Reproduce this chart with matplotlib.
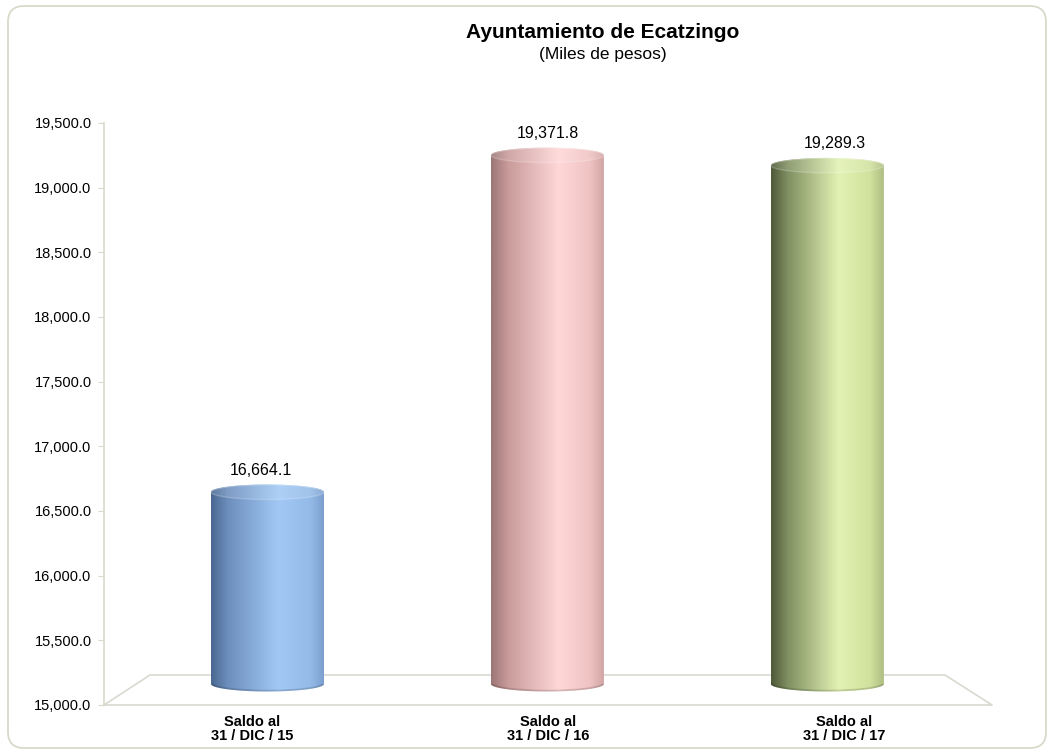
import numpy as np
import matplotlib.pyplot as plt
from matplotlib.colors import LinearSegmentedColormap, to_rgb
from matplotlib.patches import Ellipse, Polygon, FancyBboxPatch, Arc
from matplotlib.transforms import blended_transform_factory

plt.rcParams['font.family'] = ['Liberation Sans', 'DejaVu Sans']

# ===== DATA =====
categories = ['Saldo al\n31 / DIC / 15', 'Saldo al\n31 / DIC / 16', 'Saldo al\n31 / DIC / 17']
values = [16664.1, 19371.8, 19289.3]
yticks = [15000, 15500, 16000, 16500, 17000, 17500, 18000, 18500, 19000, 19500]

# gradient stops (left -> right) for each cylinder
bar_colors = [
    ['#4a6890', '#6d8fbd', '#a2c9f6', '#94bbe8', '#7c9fce'],
    ['#9c7676', '#c99b9b', '#ffd7d7', '#efc2c2', '#d2a5a5'],
    ['#4e5938', '#809162', '#e2f2b3', '#d0e19d', '#aebe82'],
]
stops = [0.0, 0.15, 0.6, 0.88, 1.0]

W, H = 1053, 755
fig = plt.figure(figsize=(W / 100, H / 100), dpi=100)
fig.patch.set_facecolor('white')

# outer rounded frame (pixel coords)
frame = FancyBboxPatch((8, 7), 1038, 742, boxstyle='round,pad=0,rounding_size=16',
                       transform=None, fc='none', ec='#d9d9c9', lw=1.3, zorder=-1)
fig.patches.append(frame)

# axes geometry in pixels
left, right, top, bottom = 104, 992, 123, 705
pos = [left / W, 1 - bottom / H, (right - left) / W, (bottom - top) / H]
xlim = (-0.584, 2.588)

ax = fig.add_axes(pos)
ax.set_xlim(*xlim)
ax.set_ylim(15000, 19500)
ax.patch.set_alpha(0)
for s in ['top', 'right', 'bottom']:
    ax.spines[s].set_visible(False)
ax.spines['left'].set_color('#d9d9cc')
ax.spines['left'].set_linewidth(1.2)
ax.set_yticks(yticks)
ax.set_yticklabels([f'{v:,.1f}' for v in yticks], fontsize=10.5)
ax.tick_params(axis='y', length=4, color='#d9d9cc', pad=5)
ax.set_xticks([])

# category labels along the front edge of the floor
trans = blended_transform_factory(ax.transAxes, ax.transAxes)
for i, c in enumerate(categories):
    ax.text((i + 0.5) / len(categories), -0.017, c, transform=trans, ha='center', va='top',
            fontsize=10.5, fontweight='bold', linespacing=1.0)

# floor (perspective)
fback = 15000 + 30 / 64.67 * 500
xl, xr = xlim
xbl = xl + 46 / 280
xbr = xr - 47 / 280
floor_x = [xl, xbl, xbr, xr, xl]
floor_y = [15000, fback, fback, 15000, 15000]
ax.plot(floor_x, floor_y, color='#d9d9d0', lw=1.2, clip_on=False, zorder=1)

# bars on their own scale (3D projection of bar tops)
ax2 = fig.add_axes(pos)
ax2.set_xlim(*xlim)
ppx = 62.2 / 500  # px per unit
ax2.set_ylim(15000 - 6 / ppx, 15000 + 576 / ppx)
ax2.axis('off')
ax2.patch.set_alpha(0)

base = 15000 + 15 / ppx
bw = 113 / 280
eh = 15 / ppx  # ellipse height in data units
grad = np.linspace(0, 1, 256).reshape(1, -1)

for i, (v, cols) in enumerate(zip(values, bar_colors)):
    cmap = LinearSegmentedColormap.from_list(f'c{i}', list(zip(stops, cols)))
    light = [tuple(0.88 * np.array(to_rgb(c)) + 0.12) for c in cols]
    cmap_l = LinearSegmentedColormap.from_list(f'l{i}', list(zip(stops, light)))
    x0, x1 = i - bw / 2, i + bw / 2
    t = np.linspace(0, np.pi, 60)
    # body outline: left edge down, bottom half-ellipse, right edge up, top half-ellipse back
    bx = i - np.cos(t) * bw / 2
    by = base - np.sin(t) * eh / 2
    tx = i + np.cos(t) * bw / 2
    ty = v + np.sin(t) * eh / 2
    pts = np.column_stack([np.concatenate([bx, tx]), np.concatenate([by, ty])])
    body = Polygon(pts, closed=True, fc='none', ec='none')
    ax2.add_patch(body)
    im = ax2.imshow(grad, cmap=cmap, aspect='auto', extent=[x0, x1, base - eh, v + eh],
                    zorder=2, interpolation='bicubic')
    im.set_clip_path(body)
    # darker rim along the bottom
    rim = Arc((i, base), bw, eh, theta1=180, theta2=360, ec='black', lw=2.5, alpha=0.15, zorder=3)
    rim.set_clip_path(body)
    ax2.add_patch(rim)
    # top cap, slightly lighter
    cap = Ellipse((i, v), bw, eh, fc='none', ec='none')
    ax2.add_patch(cap)
    im2 = ax2.imshow(grad, cmap=cmap_l, aspect='auto', extent=[x0, x1, v - eh, v + eh],
                     zorder=4, interpolation='bicubic')
    im2.set_clip_path(cap)
    ax2.add_patch(Arc((i, v), bw, eh, theta1=0, theta2=180, ec='white', lw=1.2, alpha=0.3, zorder=5))
    ax2.add_patch(Arc((i, v), bw, eh, theta1=180, theta2=360, ec='white', lw=1.0, alpha=0.2, zorder=5))
    ax2.annotate(f'{v:,.1f}', (i, v + eh / 2), xytext=((i - 1) * 5, 5), textcoords='offset points',
                 ha='center', va='bottom', fontsize=11.5, color='black')

fig.text(603 / W, 1 - 33 / H, 'Ayuntamiento de Ecatzingo', ha='center', va='center',
         fontsize=15, fontweight='bold')
fig.text(603 / W, 1 - 54 / H, '(Miles de pesos)', ha='center', va='center', fontsize=12.5)

fig.savefig('out.png', dpi=100)
